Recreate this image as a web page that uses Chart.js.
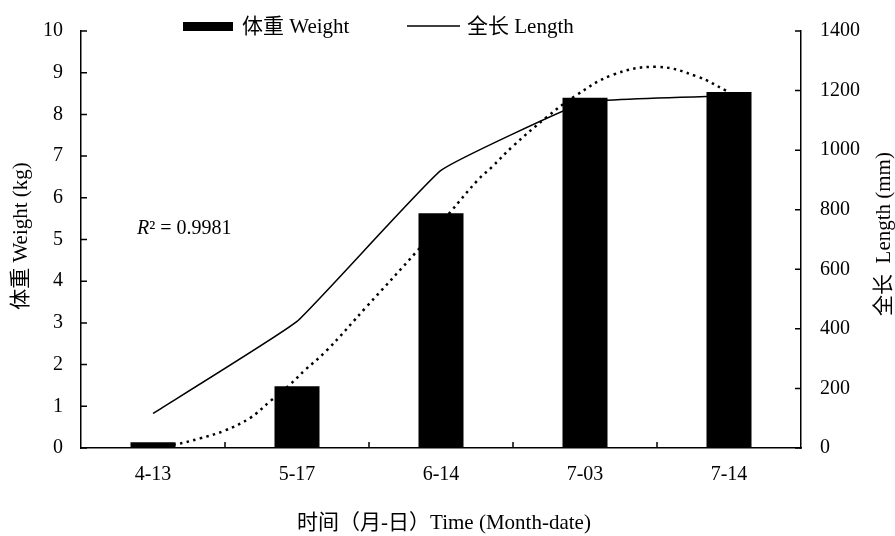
<!DOCTYPE html>
<html>
<head>
<meta charset="utf-8">
<script src="https://cdn.jsdelivr.net/npm/chart.js@4/dist/chart.umd.min.js"></script>
<style>
  html, body { margin: 0; padding: 0; background: #fff; }
  #wrap { width: 895px; height: 536px; }
</style>
</head>
<body>
<div id="wrap"><canvas id="growthChart" width="895" height="536"></canvas></div>
<script>
// Data
const categories = ['4-13', '5-17', '6-14', '7-03', '7-14'];
const weight = [0.14, 1.48, 5.63, 8.40, 8.54];
const length = [116, 425, 932, 1160, 1182];
// dotted polynomial trend (x in category index units)
const trendX = [0, 0.160, 0.326, 0.5, 0.674, 0.813, 0.951, 1.056, 1.201, 1.486, 1.833, 2.063, 2.257, 2.354, 2.5, 2.736, 2.931, 3.194, 3.5, 3.778, 3.986];
const trendY = [0.02, 0.09, 0.23, 0.42, 0.72, 1.12, 1.52, 1.87, 2.32, 3.40, 4.72, 5.65, 6.43, 6.74, 7.24, 7.94, 8.44, 8.95, 9.14, 8.91, 8.56];
const weightTicks = [0, 1, 2, 3, 4, 5, 6, 7, 8, 9, 10];
const lengthTicks = [0, 200, 400, 600, 800, 1000, 1200, 1400];
const r2Text = '0.9981';

const FONT = '"Liberation Serif", "Times New Roman", "Noto Sans CJK SC", serif';

// inward ticks, legend, titles
const decor = {
  id: 'decor',
  afterDraw(chart) {
    const ctx = chart.ctx;
    const a = chart.chartArea;
    const sy = chart.scales.y, sy2 = chart.scales.y2;
    ctx.save();
    ctx.strokeStyle = '#000';
    ctx.lineWidth = 1.5;
    ctx.beginPath();
    sy.ticks.forEach((t, i) => {
      const y = sy.getPixelForTick(i);
      ctx.moveTo(a.left, y); ctx.lineTo(a.left + 6, y);
    });
    sy2.ticks.forEach((t, i) => {
      const y = sy2.getPixelForTick(i);
      ctx.moveTo(a.right, y); ctx.lineTo(a.right - 6, y);
    });
    const step = (a.right - a.left) / categories.length;
    for (let i = 1; i < categories.length; i++) {
      const x = a.left + step * i;
      ctx.moveTo(x, a.bottom); ctx.lineTo(x, a.bottom - 6);
    }
    ctx.stroke();

    // legend
    ctx.fillStyle = '#000';
    ctx.font = '21px ' + FONT;
    ctx.textBaseline = 'middle';
    ctx.textAlign = 'left';
    ctx.fillRect(183, 22, 50, 9);
    ctx.fillText(chart.data.datasets[0].label, 242, 27);
    ctx.lineWidth = 1.5;
    ctx.beginPath();
    ctx.moveTo(407, 26); ctx.lineTo(460, 26);
    ctx.stroke();
    ctx.fillText(chart.data.datasets[1].label, 467, 27);

    // R squared
    ctx.font = 'italic 20px ' + FONT;
    ctx.fillText('R', 137, 229);
    const rw = ctx.measureText('R').width;
    ctx.font = '20px ' + FONT;
    ctx.fillText('\u00b2 = ' + r2Text, 137 + rw, 229);

    // axis titles
    ctx.font = '21px ' + FONT;
    ctx.textAlign = 'center';
    ctx.fillText('时间（月-日）Time (Month-date)', 444, 523);
    ctx.save();
    ctx.translate(21, 236);
    ctx.rotate(-Math.PI / 2);
    ctx.fillText('体重 Weight (kg)', 0, 0);
    ctx.restore();
    ctx.save();
    ctx.translate(884, 234);
    ctx.rotate(-Math.PI / 2);
    ctx.fillText('全长  Length (mm)', 0, 0);
    ctx.restore();
    ctx.restore();
  }
};

new Chart(document.getElementById('growthChart'), {
  type: 'bar',
  data: {
    labels: categories,
    datasets: [{
      label: '体重 Weight',
      type: 'bar',
      data: weight,
      backgroundColor: '#000',
      borderWidth: 0,
      grouped: false,
      categoryPercentage: 1,
      barPercentage: 0.3125,
      yAxisID: 'y',
      xAxisID: 'x',
      order: 0
    }, {
      label: '全长 Length',
      type: 'line',
      data: length,
      borderColor: '#000',
      borderWidth: 1.5,
      pointRadius: 0,
      tension: 0.1,
      fill: false,
      yAxisID: 'y2',
      xAxisID: 'x',
      order: 1
    }, {
      label: 'trend',
      type: 'line',
      data: trendX.map((x, i) => ({ x: x, y: trendY[i] })),
      borderColor: '#000',
      borderWidth: 2.5,
      borderDash: [2.5, 4.3],
      pointRadius: 0,
      tension: 0.4,
      fill: false,
      yAxisID: 'y',
      xAxisID: 'xt',
      order: 2
    }]
  },
  options: {
    responsive: false,
    animation: false,
    layout: { padding: { top: 18, left: 0, right: 0, bottom: 0 } },
    plugins: {
      legend: { display: false },
      tooltip: { enabled: false }
    },
    scales: {
      x: {
        type: 'category',
        offset: true,
        grid: { display: true, drawOnChartArea: false, drawTicks: false },
        border: { display: true, color: '#000', width: 1.5 },
        ticks: { color: '#000', font: { family: FONT, size: 20 }, padding: 15, maxRotation: 0 },
        afterFit(s) { s.height = 88; }
      },
      xt: {
        type: 'linear',
        display: false,
        offset: false,
        min: -0.5,
        max: 4.5
      },
      y: {
        position: 'left',
        min: 0,
        max: 10,
        afterBuildTicks(s) { s.ticks = weightTicks.map(v => ({ value: v })); },
        grid: { display: true, drawOnChartArea: false, drawTicks: false },
        border: { display: true, color: '#000', width: 1.5 },
        ticks: { color: '#000', font: { family: FONT, size: 20 }, padding: 18 },
        afterFit(s) { s.width = 81; }
      },
      y2: {
        position: 'right',
        min: 0,
        max: 1400,
        afterBuildTicks(s) { s.ticks = lengthTicks.map(v => ({ value: v })); },
        grid: { display: true, drawOnChartArea: false, drawTicks: false },
        border: { display: true, color: '#000', width: 1.5 },
        ticks: { color: '#000', font: { family: FONT, size: 20 }, padding: 19, callback: v => String(v) },
        afterFit(s) { s.width = 94; }
      }
    }
  },
  plugins: [decor]
});
</script>
</body>
</html>
